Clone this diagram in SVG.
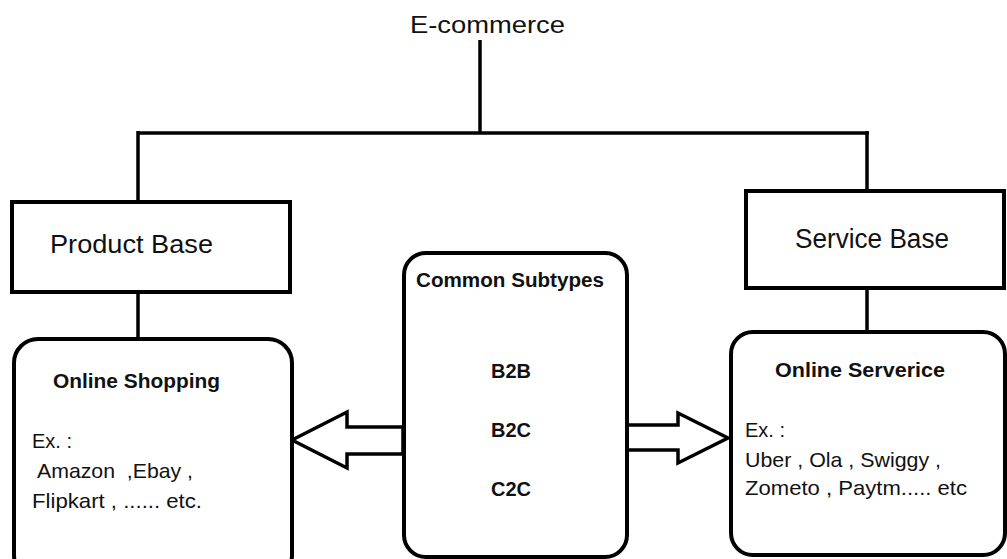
<svg xmlns="http://www.w3.org/2000/svg" width="1007" height="559" viewBox="0 0 1007 559">
<style>
.box{fill:#fff;stroke:#000;stroke-width:4}
.ln{fill:none;stroke:#000;stroke-width:3.5}
.arr{fill:#fff;stroke:#000;stroke-width:3.5;stroke-linejoin:miter}
text{font-family:"Liberation Sans",Arial,sans-serif;fill:#111}
.b{font-weight:bold}
</style>
<rect width="1007" height="559" fill="#fff"/>
<g id="connectors">
<path class="ln" d="M480 40V133M138 133H869M138 131V202M867 131V193M138 292V339M867 288V333"/>
<polygon class="arr" points="292,440 347,412 347,427 403,427 403,454 347,454 347,468"/>
<polygon class="arr" points="626,425 678,425 678,413 728,438 678,463 678,450 626,450"/>
</g>
<g id="ecommerce">
<text x="410" y="33" font-size="23" textLength="155" lengthAdjust="spacingAndGlyphs">E-commerce</text>
</g>
<g id="product-base">
<rect class="box" x="12" y="202" width="278" height="90"/>
<text x="50" y="253" font-size="25" textLength="163" lengthAdjust="spacingAndGlyphs">Product Base</text>
</g>
<g id="service-base">
<rect class="box" x="746" y="191" width="258" height="97"/>
<text x="795" y="248" font-size="27" textLength="154" lengthAdjust="spacingAndGlyphs">Service Base</text>
</g>
<g id="online-shopping">
<rect class="box" x="14" y="339" width="278" height="240" rx="24"/>
<text class="b" x="53" y="388" font-size="20" textLength="167" lengthAdjust="spacingAndGlyphs">Online Shopping</text>
<text x="32" y="448" font-size="21" textLength="40" lengthAdjust="spacingAndGlyphs">Ex. :</text>
<text x="37" y="478" font-size="21" textLength="156" lengthAdjust="spacingAndGlyphs">Amazon&#160; ,Ebay ,</text>
<text x="32" y="508" font-size="21" textLength="170" lengthAdjust="spacingAndGlyphs">Flipkart , ...... etc.</text>
</g>
<g id="common-subtypes">
<rect class="box" x="404" y="253" width="223" height="304" rx="22"/>
<text class="b" x="416" y="287" font-size="20" textLength="188" lengthAdjust="spacingAndGlyphs">Common Subtypes</text>
<text class="b" x="511" y="378" font-size="20" text-anchor="middle">B2B</text>
<text class="b" x="511" y="437" font-size="20" text-anchor="middle">B2C</text>
<text class="b" x="511" y="496" font-size="20" text-anchor="middle">C2C</text>
</g>
<g id="online-service">
<rect class="box" x="731" y="332" width="274" height="223" rx="22"/>
<text class="b" x="775" y="377" font-size="20" textLength="170" lengthAdjust="spacingAndGlyphs">Online Serverice</text>
<text x="745" y="437" font-size="21" textLength="40" lengthAdjust="spacingAndGlyphs">Ex. :</text>
<text x="745" y="467" font-size="21" textLength="196" lengthAdjust="spacingAndGlyphs">Uber , Ola , Swiggy ,</text>
<text x="745" y="495" font-size="21" textLength="222" lengthAdjust="spacingAndGlyphs">Zometo , Paytm..... etc</text>
</g>
</svg>
